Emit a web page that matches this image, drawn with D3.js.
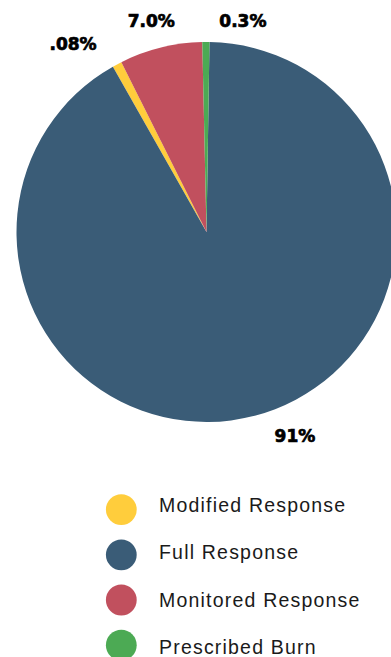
<!DOCTYPE html>
<html>
<head>
<meta charset="utf-8">
<script src="https://cdn.jsdelivr.net/npm/d3@7"></script>
<style>
  html, body { margin: 0; padding: 0; background: #fff; }
  svg { display: block; }
</style>
</head>
<body>
<svg id="chart" width="391" height="657"></svg>
<script>
// ---- Data ----
const categories = ["Modified Response", "Full Response", "Monitored Response", "Prescribed Burn"];
const values = [0.8, 91, 7.0, 0.6];   // slice sizes
const valueLabels = [".08%", "91%", "7.0%", "0.3%"];
const colors = ["#ffcd3c", "#3a5c77", "#c1505e", "#4caa54"];
// clockwise drawing order of slices, starting near 12 o'clock
const drawOrder = [1, 0, 2, 3];

// ---- Layout ----
const cx = 206.5, cy = 232, radius = 190;
const startAngle = 0.9 * Math.PI / 180;
// label placement (polar, degrees clockwise from top, radius) per category
const labelPolar = [
  { a: -35.3, r: 231 },
  { a: 156.6, r: 222.6 },
  { a: -14.7, r: 217.8 },
  { a: 9.8, r: 213.8 }
];

const svg = d3.select("#chart");
const data = categories.map((c, i) => ({ name: c, value: values[i], label: valueLabels[i], color: colors[i], idx: i }));

const pie = d3.pie()
  .value(d => d.value)
  .sort((a, b) => drawOrder.indexOf(a.idx) - drawOrder.indexOf(b.idx))
  .startAngle(startAngle)
  .endAngle(startAngle + 2 * Math.PI);

const arc = d3.arc().innerRadius(0).outerRadius(radius);

const g = svg.append("g").attr("transform", `translate(${cx},${cy})`);
g.selectAll("path.slice")
  .data(pie(data))
  .join("path")
  .attr("class", "slice")
  .attr("d", arc)
  .attr("fill", d => d.data.color);

// value labels
g.selectAll("text.vlabel")
  .data(data)
  .join("text")
  .attr("class", "vlabel")
  .attr("x", d => labelPolar[d.idx].r * Math.sin(labelPolar[d.idx].a * Math.PI / 180))
  .attr("y", d => -labelPolar[d.idx].r * Math.cos(labelPolar[d.idx].a * Math.PI / 180))
  .attr("dy", "0.36em")
  .attr("text-anchor", "middle")
  .attr("font-family", "'DejaVu Sans', sans-serif")
  .attr("font-weight", "bold")
  .attr("font-size", 17)
  .attr("fill", "#000")
  .attr("stroke", "#000")
  .attr("stroke-width", 0.7)
  .text(d => d.label);

// legend
const legendX = 121.3, circleY0 = 509.6, circleStep = 45.2;
const textX = 159, textY0 = 511.6, textStep = 47.5;
const lg = svg.append("g");
lg.selectAll("circle")
  .data(data)
  .join("circle")
  .attr("cx", legendX)
  .attr("cy", (d, i) => circleY0 + i * circleStep)
  .attr("r", 15.4)
  .attr("fill", d => d.color);
lg.selectAll("text")
  .data(data)
  .join("text")
  .attr("x", textX)
  .attr("y", (d, i) => textY0 + i * textStep)
  .attr("font-family", "'Liberation Sans', Arial, sans-serif")
  .attr("font-size", 19.5)
  .attr("letter-spacing", "1.2px")
  .attr("fill", "#1a1a1a")
  .text(d => d.name);
</script>
</body>
</html>
